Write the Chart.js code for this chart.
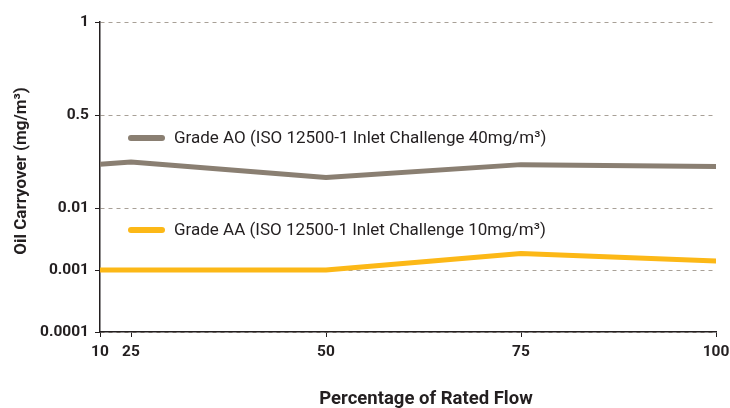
<!DOCTYPE html>
<html>
<head>
<meta charset="utf-8">
<script src="https://cdn.jsdelivr.net/npm/chart.js@4.4.1/dist/chart.umd.min.js"></script>
<style>
  body { margin: 0; background: #fff; }
  #wrap { width: 730px; height: 408px; }
</style>
</head>
<body>
<div id="wrap"><canvas id="chart" width="730" height="408"></canvas></div>
<script>
// flow (% of rated flow) on the x axis
let flow = [10, 25, 50, 75, 100];
// oil carryover, mg/m³
let gradeAO = [0.063, 0.069, 0.036, 0.062, 0.057];
let gradeAA = [0.001, 0.001, 0.001, 0.00184, 0.0014];

let seriesLabels = [
  "Grade AO (ISO 12500-1 Inlet Challenge 40mg/m³)",
  "Grade AA (ISO 12500-1 Inlet Challenge 10mg/m³)"
];
let xTitle = "Percentage of Rated Flow";
let yTitle = "Oil Carryover (mg/m³)";

// the y axis in the original is a broken log axis
let yTicks = [0.0001, 0.001, 0.01, 0.5, 1];
let yTickLabels = ["0.0001", "0.001", "0.01", "0.5", "1"];
let yLevels = [0, 1, 2, 3.5, 5];

function yPos(v) {
  for (let i = 0; i < yTicks.length - 1; i++) {
    if (v <= yTicks[i + 1] || i === yTicks.length - 2) {
      let a = Math.log10(yTicks[i]), b = Math.log10(yTicks[i + 1]);
      return yLevels[i] + (Math.log10(v) - a) / (b - a) * (yLevels[i + 1] - yLevels[i]);
    }
  }
}

// x axis is squeezed between 10 and 25
function xPos(p) {
  return p >= 25 ? p : 25 - (25 - p) * 0.265;
}

function toPoints(values) {
  return values.map((v, i) => ({x: xPos(flow[i]), y: yPos(v)}));
}

const text = "#231f20";
const gridCol = "#a8a097";
const boldFont = {family: "Roboto", size: 15.5, weight: "bold"};

// series labels next to their lines + axis titles
const notes = {
  id: "notes",
  afterDatasetsDraw(chart) {
    let ctx = chart.ctx;
    let left = chart.chartArea.left;
    let rows = [138, 230];
    ctx.save();
    chart.data.datasets.forEach((ds, i) => {
      let y = rows[i];
      ctx.strokeStyle = ds.borderColor;
      ctx.lineWidth = 6;
      ctx.lineCap = "round";
      ctx.beginPath();
      ctx.moveTo(left + 31, y);
      ctx.lineTo(left + 62, y);
      ctx.stroke();
      ctx.fillStyle = text;
      ctx.font = "17px Roboto";
      ctx.textBaseline = "middle";
      ctx.fillText(ds.label, left + 74, y + 1);
    });

    ctx.font = "bold 18.5px Roboto";
    ctx.textAlign = "center";
    ctx.textBaseline = "middle";
    ctx.fillText(xTitle, 426, 399);

    ctx.translate(22, 171);
    ctx.rotate(-Math.PI / 2);
    ctx.font = "bold 17px Roboto";
    ctx.fillText(yTitle, 0, 0);
    ctx.restore();
  }
};

new Chart(document.getElementById("chart"), {
  type: "line",
  data: {
    datasets: [
      {label: seriesLabels[0], data: toPoints(gradeAO), borderColor: "#8a7f72", borderWidth: 5},
      {label: seriesLabels[1], data: toPoints(gradeAA), borderColor: "#fcb817", borderWidth: 5}
    ]
  },
  options: {
    responsive: false,
    animation: false,
    layout: {padding: {left: 0, top: 22, right: 14, bottom: 0}},
    elements: {
      point: {radius: 0},
      line: {tension: 0, borderCapStyle: "round", borderJoinStyle: "round"}
    },
    plugins: {legend: {display: false}, tooltip: {enabled: false}},
    scales: {
      x: {
        type: "linear",
        min: xPos(10),
        max: 100,
        afterFit(scale) {
          scale.height = 76;
          scale.paddingRight = 0;
        },
        afterBuildTicks(scale) {
          scale.ticks = flow.map(p => ({value: xPos(p)}));
        },
        ticks: {
          color: text, font: boldFont, padding: 6, maxRotation: 0, autoSkip: false,
          callback: (v, i) => String(flow[i])
        },
        grid: {drawOnChartArea: false, tickLength: 5, tickColor: text},
        border: {color: text, width: 1.5}
      },
      y: {
        type: "linear",
        min: 0,
        max: 5,
        afterFit(scale) { scale.width = 100; },
        afterBuildTicks(scale) {
          scale.ticks = yLevels.map(l => ({value: l}));
        },
        ticks: {
          color: text, font: boldFont, padding: 6, autoSkip: false,
          callback: (v, i) => yTickLabels[i]
        },
        grid: {color: gridCol, lineWidth: 1, tickLength: 5, tickColor: text},
        border: {color: text, width: 1.5, dash: [4, 4]}
      }
    }
  },
  plugins: [notes]
});
</script>
</body>
</html>
